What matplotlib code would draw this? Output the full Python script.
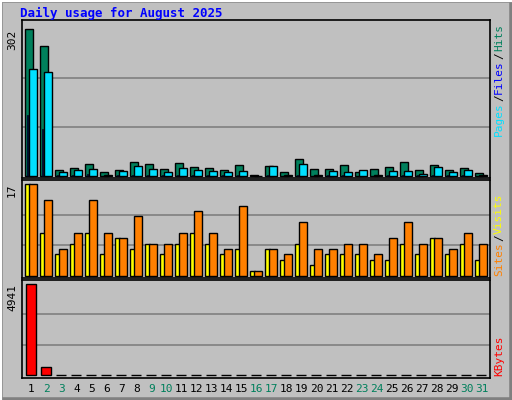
import matplotlib
matplotlib.use("Agg")
import matplotlib.pyplot as plt
from matplotlib.patches import Rectangle
import numpy as np

days = list(range(1, 32))
hits = [302, 267, 12, 16, 24, 9, 12, 28, 24, 14, 26, 18, 16, 12, 22, 3, 20, 9, 34, 14, 14, 22, 9, 14, 18, 28, 12, 22, 12, 16, 7]
files = [221, 215, 8, 12, 14, 3, 10, 20, 14, 8, 16, 12, 10, 8, 10, 1, 20, 3, 24, 3, 10, 8, 12, 3, 10, 10, 5, 18, 8, 12, 3]
pages = [125, 97, 3, 3, 4, 1, 3, 2, 3, 2, 3, 3, 2, 2, 3, 1, 2, 1, 3, 1, 2, 2, 1, 1, 2, 2, 2, 3, 2, 2, 1]
visits = [17, 14, 5, 8, 14, 8, 7, 11, 6, 6, 8, 12, 8, 5, 13, 1, 5, 4, 10, 5, 5, 6, 6, 4, 7, 10, 6, 7, 5, 8, 6]
sites = [17, 8, 4, 6, 8, 4, 7, 5, 6, 4, 6, 8, 6, 4, 5, 1, 5, 3, 6, 2, 4, 4, 4, 3, 3, 6, 4, 7, 4, 6, 3]
kbytes = [4941, 430, 5, 5, 5, 5, 5, 5, 5, 5, 5, 5, 5, 5, 5, 5, 5, 5, 5, 5, 5, 5, 5, 5, 5, 5, 5, 5, 5, 5, 5]
weekend = [2, 3, 9, 10, 16, 17, 23, 24, 30, 31]

W, H = 512, 400
BG = "#C0C0C0"
fig = plt.figure(figsize=(5.12, 4.0), dpi=100, facecolor=BG)
mono = "DejaVu Sans Mono"

fig.add_artist(Rectangle((0, 0), 1, 1, transform=fig.transFigure, fill=False, ec="#808080", lw=4))
fig.add_artist(plt.Line2D([0, 0, 1], [0, 1, 1], transform=fig.transFigure, color="white", lw=3))

x = np.array(days, dtype=float)
px = 1 / 15.0

def make_ax(top, bottom, base, tval, vmax):
    ax = fig.add_axes([22 / W, 1 - bottom / H, 468 / W, (bottom - top) / H])
    ax.set_facecolor(BG)
    s = (base - tval) / vmax
    ax.set_ylim(-(bottom - base) / s, (base - top) / s)
    ax.set_xlim(0.37, 31.57)
    for g in (vmax / 3, 2 * vmax / 3):
        ax.axhline(g, color="#808080", lw=1.2, zorder=0)
    ax.set_xticks([]); ax.set_yticks([])
    for sp in ax.spines.values():
        sp.set_color("black"); sp.set_linewidth(1.2)
    ax.text(-10 / 468, 1 - (tval - top) / (bottom - top), str(vmax),
            transform=ax.transAxes, rotation=90, ha="center", va="top",
            family=mono, fontsize=8)
    return ax

def bars(ax, vals, l, r, color, lw=1.0):
    ax.bar(x + (l + r) / 2 * px, vals, width=(r - l) * px, color=color,
           edgecolor="black", linewidth=lw)

ax1 = make_ax(20, 178, 176, 29.3, 302)
bars(ax1, hits, -6.5, 1.5, "#00805c")
bars(ax1, pages, -4.8, -3.0, "#0000ff", 0.5)
bars(ax1, files, -2.5, 5.5, "#00e0ff")

ax2 = make_ax(180, 278, 276, 184, 17)
bars(ax2, sites, -6.5, -1.5, "#ffff00")
bars(ax2, visits, -2.5, 5.5, "#ff8000")

ax3 = make_ax(280, 378, 375, 284, 4941)
bars(ax3, kbytes, -5, 5, "#ff0000")

fig.text(20 / W, 1 - 13 / H, "Daily usage for August 2025", color="#0000ff",
         family=mono, fontweight="bold", fontsize=9, va="center")

for d in days:
    cx = 31.5 + 15 * (d - 1)
    fig.text(cx / W, 1 - 389 / H, str(d), ha="center", va="center", family=mono,
             fontsize=8, color="#00805c" if d in weekend else "black")

renderer = fig.canvas.get_renderer()

def side(parts, ybottom):
    y = ybottom
    for t, c in parts:
        tx = fig.text(499 / W, 1 - y / H, t, rotation=90, ha="center", va="bottom",
                      family=mono, fontsize=8, color=c)
        ext = tx.get_window_extent(renderer)
        y -= ext.height + 1

side([("Pages", "#00e0ff"), ("/", "black"), ("Files", "#0000ff"), ("/", "black"), ("Hits", "#00805c")], 136)
side([("Sites", "#ff8000"), ("/", "black"), ("Visits", "#ffff00")], 276)
side([("KBytes", "#ff0000")], 376)

fig.savefig("out.png", dpi=100, facecolor=BG)
